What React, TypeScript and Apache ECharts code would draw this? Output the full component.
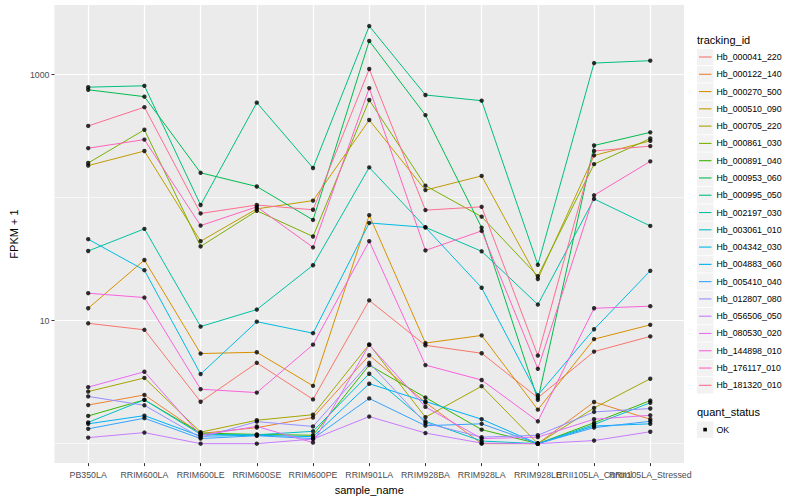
import React, { useEffect, useRef } from "react";
import * as echarts from "echarts";

const categories = [
  "PB350LA", "RRIM600LA", "RRIM600LE", "RRIM600SE", "RRIM600PE", "RRIM901LA",
  "RRIM928BA", "RRIM928LA", "RRIM928LE", "RRII105LA_Control", "RRII105LA_Stressed",
];

const trackingIds = [
  "Hb_000041_220", "Hb_000122_140", "Hb_000270_500", "Hb_000510_090", "Hb_000705_220",
  "Hb_000861_030", "Hb_000891_040", "Hb_000953_060", "Hb_000995_050", "Hb_002197_030",
  "Hb_003061_010", "Hb_004342_030", "Hb_004883_060", "Hb_005410_040", "Hb_012807_080",
  "Hb_056506_050", "Hb_080530_020", "Hb_144898_010", "Hb_176117_010", "Hb_181320_010",
];

const palette = [
  "#F8766D", "#EA8331", "#D89000", "#C09B00", "#A3A500", "#7CAE00", "#39B600", "#00BB4E",
  "#00BF7D", "#00C1A3", "#00BFC4", "#00BAE0", "#00B0F6", "#35A2FF", "#9590FF", "#C77CFF",
  "#E76BF3", "#FA62DB", "#FF62BC", "#FF6C91",
];

// FPKM + 1 values, one array per tracking_id, in category order
const hb000041_220 = [9.51, 8.42, 2.19, 4.54, 2.29, 14.6, 6.3, 5.43, 2.36, 5.6, 7.44];
const hb000122_140 = [2.06, 2.49, 1.21, 1.35, 1.63, 5.23, 2.16, 1.0, 1.0, 2.18, 1.58];
const hb000270_500 = [12.6, 31.1, 5.4, 5.53, 2.95, 71.9, 6.57, 7.58, 1.89, 7.07, 9.24];
const hb000510_090 = [182, 239, 44.2, 81, 94.5, 427, 115, 150, 21.8, 220, 289];
const hb000705_220 = [2.65, 3.42, 1.24, 1.55, 1.72, 6.41, 1.64, 2.93, 1.0, 1.95, 3.37];
const hb000861_030 = [191, 356, 40.1, 78.1, 48.3, 621, 125, 69.9, 23, 187, 302];
const hb000891_040 = [1.68, 2.27, 1.22, 1.19, 1.17, 4.35, 2.37, 1.3, 1.0, 1.48, 2.24];
const hb000953_060 = [752, 661, 159, 123, 65.8, 1876, 468, 57, 2.27, 265, 339];
const hb000995_050 = [790, 810, 87, 591, 174, 2477, 682, 613, 28.4, 1240, 1296];
const hb002197_030 = [36.8, 55.7, 8.95, 12.3, 28.2, 176, 57.3, 36.6, 13.5, 97.5, 58.8];
const hb003061_010 = [1.49, 2.27, 1.19, 1.18, 1.26, 3.7, 1.52, 1.05, 1.0, 1.43, 2.15];
const hb004342_030 = [45.9, 25.7, 3.68, 9.8, 7.9, 62.2, 57.3, 18.5, 2.48, 8.51, 25.4];
const hb004883_060 = [1.45, 1.69, 1.15, 1.17, 1.14, 3.07, 2.2, 1.58, 1.0, 1.39, 1.45];
const hb005410_040 = [1.32, 1.61, 1.1, 1.16, 1.1, 2.33, 1.4, 1.45, 1.0, 1.35, 1.52];
const hb012807_080 = [2.42, 2.05, 1.12, 1.51, 1.38, 4.54, 1.47, 1.13, 1.17, 1.81, 1.93];
const hb056506_050 = [1.12, 1.23, 1.0, 1.0, 1.09, 1.66, 1.22, 1.01, 1.0, 1.06, 1.25];
const hb080530_020 = [2.88, 3.84, 1.17, 1.38, 1.02, 6.35, 1.99, 1.1, 1.13, 1.58, 1.7];
const hb144898_010 = [16.7, 15.4, 2.77, 2.6, 6.38, 44.2, 4.35, 3.29, 1.52, 12.6, 13.1];
const hb176117_010 = [252, 296, 59.2, 84.1, 39.4, 776, 37.2, 53.6, 4.06, 104.4, 197];
const hb181320_010 = [382, 543, 74.3, 87, 79.6, 1109, 79.1, 84.1, 5.2, 239, 262];

const seriesValues = [
  hb000041_220, hb000122_140, hb000270_500, hb000510_090, hb000705_220,
  hb000861_030, hb000891_040, hb000953_060, hb000995_050, hb002197_030,
  hb003061_010, hb004342_030, hb004883_060, hb005410_040, hb012807_080,
  hb056506_050, hb080530_020, hb144898_010, hb176117_010, hb181320_010,
];

const yMajorBreaks = [10, 1000];
const yMinorBreaks = [1, 100];
const yRange = [0.695, 3675];

const FONT = "'Liberation Sans', Arial, Helvetica, sans-serif";

function buildOption() {
  const lg = Math.log10;
  const lineSeries = seriesValues.map((vals, s) => ({
    type: "line",
    name: trackingIds[s],
    xAxisIndex: 0,
    yAxisIndex: 0,
    data: vals.map((v, i) => [i, lg(v)]),
    symbol: "none",
    lineStyle: { color: palette[s], width: 1 },
    itemStyle: { color: palette[s] },
    z: 2,
    silent: true,
    emphasis: { disabled: true },
  }));
  const pointData: number[][] = [];
  seriesValues.forEach((vals) => vals.forEach((v, i) => pointData.push([i, lg(v)])));
  const points = {
    type: "scatter",
    name: "OK",
    xAxisIndex: 0,
    yAxisIndex: 0,
    data: pointData,
    symbol: "circle",
    symbolSize: 4.4,
    itemStyle: { color: "#000" },
    z: 3,
    silent: true,
    emphasis: { disabled: true },
  };

  const graphics: any[] = [];
  graphics.push({
    type: "text",
    style: { text: "tracking_id", x: 697, y: 40, font: `11px ${FONT}`, fill: "#000", verticalAlign: "middle" },
  });
  const rowStep = 17.28;
  trackingIds.forEach((id, i) => {
    const cy = 57 + rowStep * i;
    graphics.push({ type: "rect", shape: { x: 697, y: cy - 8.2, width: 16.5, height: 16.4 }, style: { fill: "#F2F2F2" } });
    graphics.push({ type: "line", shape: { x1: 699, y1: cy, x2: 711.5, y2: cy }, style: { stroke: palette[i], lineWidth: 1.1 } });
    graphics.push({
      type: "text",
      style: { text: id, x: 716.5, y: cy, font: `8.8px ${FONT}`, fill: "#000", verticalAlign: "middle" },
    });
  });
  graphics.push({
    type: "text",
    style: { text: "quant_status", x: 697, y: 412, font: `11px ${FONT}`, fill: "#000", verticalAlign: "middle" },
  });
  graphics.push({ type: "rect", shape: { x: 697, y: 421.5, width: 16.5, height: 16.4 }, style: { fill: "#F2F2F2" } });
  graphics.push({ type: "rect", shape: { x: 703.3, y: 427.8, width: 3.6, height: 3.6 }, style: { fill: "#000" } });
  graphics.push({
    type: "text",
    style: { text: "OK", x: 716.5, y: 429.7, font: `8.8px ${FONT}`, fill: "#000", verticalAlign: "middle" },
  });

  const catIdx = categories.map((_, i) => i);
  const evenIdx = catIdx.filter((i) => i % 2 === 0);
  const oddIdx = catIdx.filter((i) => i % 2 === 1);
  const major = yMajorBreaks.map(lg);
  const minor = yMinorBreaks.map(lg);
  const yMin = lg(yRange[0]);
  const yMax = lg(yRange[1]);

  const xLabel = {
    formatter: (v: number) => categories[Math.round(v)],
    color: "#4D4D4D",
    fontSize: 8.8,
    fontFamily: FONT,
    margin: 7,
    showMinLabel: true,
    showMaxLabel: true,
    hideOverlap: false,
  };
  const xTick = { show: true, length: 3, lineStyle: { color: "#333", width: 1 } };

  return {
    animation: false,
    backgroundColor: "#fff",
    textStyle: { fontFamily: FONT },
    grid: { left: 45, top: 5, width: 639, height: 463, show: true, backgroundColor: "#EBEBEB", borderWidth: 0 },
    xAxis: [
      {
        type: "value",
        position: "bottom",
        min: -0.6,
        max: 10.6,
        axisLine: { show: false, onZero: false },
        axisTick: { ...xTick, customValues: evenIdx },
        axisLabel: { ...xLabel, customValues: evenIdx },
        splitLine: { show: true, lineStyle: { color: "#fff", width: 1.2 } },
        name: "sample_name",
        nameLocation: "middle",
        nameGap: 14,
        nameTextStyle: { color: "#000", fontSize: 11, fontFamily: FONT },
      },
      {
        type: "value",
        position: "bottom",
        min: -0.6,
        max: 10.6,
        axisLine: { show: false, onZero: false },
        axisTick: { ...xTick, customValues: oddIdx },
        axisLabel: { ...xLabel, customValues: oddIdx },
        splitLine: { show: true, lineStyle: { color: "#fff", width: 1.2 } },
      },
    ],
    yAxis: [
      {
        type: "value",
        position: "left",
        min: yMin,
        max: yMax,
        axisLine: { show: false, onZero: false },
        axisTick: { show: true, customValues: major, length: 3, lineStyle: { color: "#333", width: 1 } },
        axisLabel: {
          customValues: major,
          formatter: (v: number) => String(Math.round(Math.pow(10, v))),
          color: "#4D4D4D",
          fontSize: 8.8,
          fontFamily: FONT,
          margin: 5,
        },
        splitLine: { show: true, lineStyle: { color: "#fff", width: 1.2 } },
        name: "FPKM + 1",
        nameLocation: "middle",
        nameGap: 27,
        nameTextStyle: { color: "#000", fontSize: 11, fontFamily: FONT },
      },
      {
        type: "value",
        position: "left",
        min: yMin,
        max: yMax,
        axisLine: { show: false, onZero: false },
        axisTick: { show: false, customValues: minor },
        axisLabel: { show: false, customValues: minor },
        splitLine: { show: true, lineStyle: { color: "#fff", width: 0.6 } },
      },
    ],
    series: [...lineSeries, points],
    graphic: { elements: graphics },
  };
}

export default function App() {
  const ref = useRef<HTMLDivElement>(null);
  useEffect(() => {
    if (!ref.current) return;
    const chart = echarts.init(ref.current, null, { renderer: "svg" });
    chart.setOption(buildOption() as any);
    return () => chart.dispose();
  }, []);
  return (
    <div
      ref={ref}
      style={{ position: "fixed", left: 0, top: 0, width: 800, height: 500, background: "#fff" }}
    />
  );
}
